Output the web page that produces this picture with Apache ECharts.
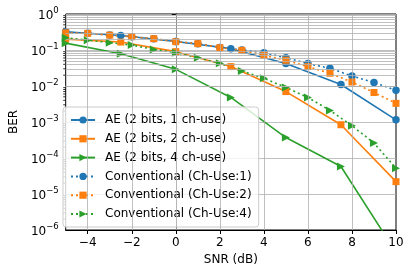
<!DOCTYPE html>
<html><head><meta charset="utf-8">
<script src="https://cdn.jsdelivr.net/npm/echarts@6/dist/echarts.min.js"></script>
<style>html,body{margin:0;padding:0;background:#fff}#c{width:409px;height:275px}</style>
</head><body><div id="c"></div>
<script>
const snrAE = [-5, -2.5, 0, 2.5, 5, 7.5, 10];
const snrConv = [-5, -4, -3, -2, -1, 0, 1, 2, 3, 4, 5, 6, 7, 8, 9, 10];
const ae1 = [0.32, 0.254, 0.172, 0.109, 0.042, 0.011, 0.00115];
const ae2 = [0.20, 0.166, 0.090, 0.0346, 0.0070, 0.00084, 0.000022];
const ae4 = [0.155, 0.079, 0.029, 0.0048, 0.00037, 0.000058, 0.00000024];
const conv1 = [0.31, 0.29, 0.26, 0.235, 0.207, 0.172, 0.15, 0.118, 0.1, 0.084, 0.061, 0.042, 0.031, 0.019, 0.0125, 0.0076];
const conv2 = [0.30, 0.29, 0.259, 0.234, 0.206, 0.170, 0.150, 0.116, 0.098, 0.071, 0.052, 0.0346, 0.0226, 0.0129, 0.0066, 0.0033];
const conv4 = [0.22, 0.188, 0.160, 0.137, 0.104, 0.0843, 0.0613, 0.0427, 0.0261, 0.0164, 0.0091, 0.0048, 0.0021, 0.00079, 0.00026, 0.000052];
const xTicks = [-4, -2, 0, 2, 4, 6, 8, 10];
const seriesNames = ['AE (2 bits, 1 ch-use)', 'AE (2 bits, 2 ch-use)', 'AE (2 bits, 4 ch-use)',
  'Conventional (Ch-Use:1)', 'Conventional (Ch-Use:2)', 'Conventional (Ch-Use:4)'];

const C = ['#1f77b4', '#ff7f0e', '#2ca02c'];
const minorVals = [];
for (let e = -6; e < 0; e++) for (let k = 2; k <= 9; k++) minorVals.push(+(k * Math.pow(10, e)).toPrecision(3));
const gridColor = '#b0b0b0';
const pair = (xs, ys) => xs.map((x, i) => [x, ys[i]]);
const minus = s => String(s).replace('-', '\u2212');

function mk(name, xs, ys, color, symbol, dotted) {
  return {
    name, type: 'line', data: pair(xs, ys), color,
    symbol: symbol === 'tri' ? 'triangle' : symbol,
    symbolRotate: symbol === 'tri' ? -90 : 0,
    symbolSize: symbol === 'rect' ? 7 : (symbol === 'tri' ? 8 : 7.5),
    showAllSymbol: true,
    lineStyle: { width: 1.6, type: dotted ? [2, 3] : 'solid', color },
    itemStyle: { color },
    emphasis: { disabled: true },
    animation: false, z: 3
  };
}

const chart = echarts.init(document.getElementById('c'), null, { renderer: 'canvas' });
chart.setOption({
  animation: false,
  textStyle: { fontFamily: 'DejaVu Sans' },
  grid: { left: 60, right: 13, top: 14, bottom: 45, show: true, borderColor: '#000', borderWidth: 1, backgroundColor: 'transparent' },
  xAxis: {
    type: 'value', min: -5, max: 10, interval: 1,
    name: 'SNR (dB)', nameLocation: 'middle', nameGap: 22,
    nameTextStyle: { fontSize: 12, color: '#000' },
    axisLine: { lineStyle: { color: '#000', width: 1 } },
    axisTick: { length: 4, customValues: xTicks, lineStyle: { color: '#000' } },
    axisLabel: { customValues: xTicks, fontSize: 12, color: '#000', margin: 7, formatter: v => minus(v) },
    splitLine: { show: false }
  },
  yAxis: {
    type: 'log', logBase: 10, min: 1e-6, max: 1,
    name: 'BER', nameLocation: 'middle', nameGap: 42, nameRotate: 90,
    nameTextStyle: { fontSize: 12, color: '#000' },
    axisLine: { show: true, lineStyle: { color: '#000', width: 1 } },
    axisTick: { show: true, length: 4, lineStyle: { color: '#000' } },
    axisLabel: {
      fontSize: 12, color: '#000', margin: 7,
      formatter: v => { const e = Math.round(Math.log10(v)); return '{b|10}{s|' + minus(e) + '}'; },
      rich: {
        b: { fontSize: 12, color: '#000', lineHeight: 16, verticalAlign: 'bottom', fontFamily: 'DejaVu Sans' },
        s: { fontSize: 8.5, color: '#000', lineHeight: 16, verticalAlign: 'top', fontFamily: 'DejaVu Sans' }
      }
    },
    splitLine: { show: true, lineStyle: { color: gridColor, width: 0.8 } }
  },
  legend: {
    data: seriesNames, orient: 'vertical', left: 63, top: 107,
    padding: [6, 7, 6, 7], itemWidth: 24, itemHeight: 9, itemGap: 4.8,
    backgroundColor: 'rgba(255,255,255,0.8)', borderColor: '#cccccc', borderWidth: 1, borderRadius: 3,
    textStyle: { fontSize: 12, color: '#000', padding: [0, 0, 0, 5], lineHeight: 14 }
  },
  series: [
    {
      type: 'custom', name: 'minorTicks', silent: true, z: 1, clip: false,
      data: minorVals.map(v => [-5, v]),
      renderItem: (params, api) => {
        const p = api.coord([api.value(0), api.value(1)]);
        return { type: 'line', shape: { x1: p[0] - 2.5, y1: p[1], x2: p[0], y2: p[1] }, style: { stroke: '#000', lineWidth: 0.8 } };
      },
      markLine: {
        silent: true, symbol: 'none', label: { show: false }, animation: false,
        lineStyle: { color: gridColor, width: 0.8, type: 'solid' },
        data: minorVals.map(v => ({ yAxis: v })).concat(xTicks.slice(0, -1).map(x => ({ xAxis: x })))
      }
    },
    mk(seriesNames[0], snrAE, ae1, C[0], 'circle', false),
    mk(seriesNames[1], snrAE, ae2, C[1], 'rect', false),
    mk(seriesNames[2], snrAE, ae4, C[2], 'tri', false),
    mk(seriesNames[3], snrConv, conv1, C[0], 'circle', true),
    mk(seriesNames[4], snrConv, conv2, C[1], 'rect', true),
    mk(seriesNames[5], snrConv, conv4, C[2], 'tri', true)
  ]
});
</script></body></html>
